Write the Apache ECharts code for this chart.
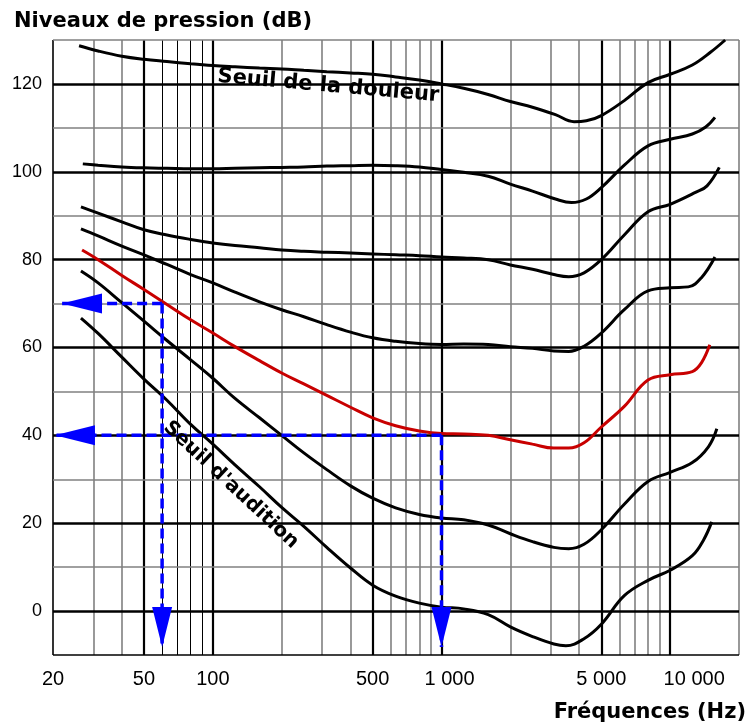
<!DOCTYPE html>
<html>
<head>
<meta charset="utf-8">
<script src="https://cdn.jsdelivr.net/npm/echarts@6/dist/echarts.min.js"></script>
<style>
  html, body { margin: 0; padding: 0; background: #fff; }
  #chart { width: 748px; height: 726px; }
</style>
</head>
<body>
<div id="chart"></div>
<script>
// isophones : [fréquence (Hz), niveau (dB)]
const phon120 = [[26, 128.7], [31.5, 127.5], [40, 126.3], [50, 125.6], [63, 125.1], [80, 124.6], [100, 124.2], [125, 123.9], [160, 123.6], [200, 123.4], [250, 123.1], [315, 122.8], [400, 122.5], [500, 122.2], [630, 121.6], [800, 120.9], [1000, 120], [1250, 119], [1600, 117.6], [2000, 116], [2500, 114.7], [3150, 113], [3800, 111.4], [4300, 111.6], [5000, 112.8], [6300, 116.2], [8000, 120.3], [10000, 122.2], [12500, 124.3], [15000, 127.2], [17400, 130]];
const phon100 = [[27, 101.8], [31.5, 101.5], [40, 101.1], [50, 100.9], [63, 100.8], [80, 100.7], [100, 100.7], [125, 100.8], [160, 100.9], [200, 101], [250, 101.1], [315, 101.3], [400, 101.4], [500, 101.5], [630, 101.4], [800, 101.1], [1000, 100.5], [1250, 99.9], [1600, 99], [2000, 97.2], [2500, 95.6], [3150, 93.8], [3700, 93], [4300, 93.8], [5000, 96.4], [6300, 101.5], [8000, 105.9], [10000, 107.4], [12500, 108.6], [14300, 110.2], [15700, 112.4]];
const phon80 = [[26.5, 92], [31.5, 90.6], [40, 88.6], [50, 86.8], [63, 85.6], [80, 84.6], [100, 83.8], [125, 83.2], [160, 82.7], [200, 82.2], [250, 81.9], [315, 81.7], [400, 81.5], [500, 81.3], [630, 81.1], [800, 80.9], [1000, 80.6], [1250, 80.4], [1600, 80], [2000, 78.8], [2500, 77.8], [3100, 76.6], [3600, 76.1], [4200, 77], [5000, 80], [6300, 85.6], [8000, 90.9], [10000, 92.6], [12900, 95.3], [14500, 96.8], [16400, 101]];
const phon60 = [[26.5, 87], [31.5, 85.4], [40, 83.1], [50, 81.1], [63, 78.9], [80, 76.6], [100, 74.7], [125, 72.6], [160, 70.4], [200, 68.6], [250, 67], [315, 65.2], [400, 63.5], [500, 62.2], [630, 61.4], [800, 60.9], [1000, 60.7], [1250, 60.8], [1600, 60.7], [2000, 60.2], [2500, 59.8], [3100, 59.2], [3600, 59.1], [4200, 60.3], [5000, 63.3], [6300, 68.6], [8000, 72.9], [10000, 73.6], [12000, 73.8], [13700, 75.9], [15700, 80.6]];
const phon40 = [[26.8, 82.2], [31.5, 80], [40, 76.4], [50, 73.2], [63, 69.8], [80, 66.3], [100, 63.3], [125, 60.2], [160, 57], [200, 54.2], [250, 51.7], [315, 49.1], [400, 46.4], [500, 44], [630, 42.2], [800, 41], [1000, 40.4], [1250, 40.3], [1600, 40], [2000, 39], [2500, 38], [3100, 37.1], [3600, 37.1], [4200, 38.3], [5000, 41.9], [6300, 46.6], [8000, 52.6], [10000, 53.8], [12500, 54.5], [13700, 56.5], [14900, 60.6]];
const phon20 = [[26.5, 77.4], [31.5, 74.7], [40, 70.2], [50, 66], [63, 61.6], [80, 57.2], [100, 53], [125, 48.4], [160, 44], [200, 40], [250, 36], [315, 32.2], [400, 28.5], [500, 25.7], [630, 23.5], [800, 22], [1000, 21.2], [1250, 20.8], [1600, 19.6], [2000, 17.6], [2500, 15.8], [3100, 14.5], [3600, 14.2], [4200, 15.2], [5000, 18.5], [6300, 24.3], [8000, 29.5], [10000, 31.6], [12500, 33.8], [14700, 37.4], [16000, 41.5]];
const seuilAudition = [[26.5, 66.7], [31.5, 63.2], [40, 57.8], [50, 52.8], [63, 48], [80, 42.5], [100, 38], [125, 33.3], [160, 28.3], [200, 23.6], [250, 19.3], [315, 14.5], [400, 9.8], [500, 5.9], [630, 3.4], [800, 1.8], [1000, 0.9], [1250, 0.5], [1600, -0.8], [2000, -3.6], [2500, -5.8], [3100, -7.5], [3500, -7.9], [4200, -6.3], [5000, -3], [6300, 3.5], [8000, 7], [10000, 9.3], [12500, 12.6], [14000, 16.2], [15200, 20.3]];

// lectures : 70 dB à 60 Hz, 40 dB à 1000 Hz
const arrow70h = [[60, 70], [21.9, 70]];
const arrow60v = [[60, 70], [60, -8.2]];
const arrow40h = [[1000, 40], [20.4, 40]];
const arrow1000v = [[1000, 40], [1000, -8.2]];

// graduations
const xMajor = [20, 50, 100, 500, 1000, 5000, 10000];
const xMajorLabels = ['20', '50', '100', '500', '1 000', '5 000', '10 000'];
const xMinor = [30, 40, 200, 300, 400, 600, 700, 800, 900, 2000, 3000, 4000, 6000, 7000, 8000, 9000];
const xMinorThin = [60, 70, 80, 90];
const yMajor = [0, 20, 40, 60, 80, 100, 120];
const yMinor = [10, 30, 50, 70, 90, 110, 130];

const annotationNames = ['Seuil de la douleur', "Seuil d'audition"];
const annotationPos = [[320, 119.5], [120, 28.7]];

const chart = echarts.init(document.getElementById('chart'));

const major = { color: '#000', width: 2.2, type: 'solid' };
const minor = { color: '#808080', width: 1.6, type: 'solid' };
const thin = { color: '#000', width: 1, type: 'solid' };
const labelPad = { '1 000': [0, 0, 0, 16], '10 000': [0, 0, 0, 48] };

const gridLines = [];
xMajor.forEach((v, i) => {
  gridLines.push({
    xAxis: v,
    lineStyle: v === 20 ? { color: '#000', width: 1.6, type: 'solid' } : major,
    label: {
      show: true,
      position: 'start',
      distance: 14,
      formatter: xMajorLabels[i],
      padding: labelPad[xMajorLabels[i]] || 0,
      color: '#000',
      fontSize: 20,
      fontFamily: 'Liberation Sans'
    }
  });
});
xMinor.forEach(v => gridLines.push({ xAxis: v, lineStyle: minor, label: { show: false } }));
xMinorThin.forEach(v => gridLines.push({ xAxis: v, lineStyle: thin, label: { show: false } }));
gridLines.push({ xAxis: 20000, lineStyle: minor, label: { show: false } });
yMinor.forEach(v => gridLines.push({ yAxis: v, lineStyle: minor, label: { show: false } }));
yMajor.forEach(v => gridLines.push({ yAxis: v, lineStyle: { color: '#000', width: 2.5, type: 'solid' }, label: { show: false } }));
gridLines.push({ yAxis: -10, lineStyle: { color: '#000', width: 1.5, type: 'solid' }, label: { show: false } });

const curve = (data, color) => ({
  type: 'line',
  data,
  smooth: 0.4,
  symbol: 'none',
  lineStyle: { color, width: 3 },
  z: 5,
  silent: true
});

const arrow = (pts, rot, offset) => ({
  type: 'line',
  data: [
    { value: pts[0], symbol: 'none' },
    { value: pts[1], symbol: 'triangle', symbolSize: [20, 40], symbolRotate: rot, symbolOffset: offset }
  ],
  lineStyle: { color: '#0000ff', width: 3.5, type: [10, 5] },
  itemStyle: { color: '#0000ff' },
  z: 6,
  silent: true
});

chart.setOption({
  animation: false,
  title: [
    {
      text: 'Niveaux de pression (dB)',
      left: 9,
      top: 6,
      textStyle: { fontFamily: 'DejaVu Sans', fontWeight: 'bold', fontSize: 21, color: '#000' }
    },
    {
      text: 'Fréquences (Hz)',
      right: -3,
      top: 697,
      textStyle: { fontFamily: 'DejaVu Sans', fontWeight: 'bold', fontSize: 21, color: '#000' }
    }
  ],
  grid: { left: 53, right: 9, top: 40, bottom: 71 },
  xAxis: {
    type: 'log',
    logBase: 10,
    min: 20,
    max: 20000,
    axisLine: { show: false },
    axisTick: { show: false },
    axisLabel: { show: false },
    splitLine: { show: false }
  },
  yAxis: {
    type: 'value',
    min: -10,
    max: 130,
    interval: 10,
    axisLine: { show: false },
    axisTick: { show: false },
    splitLine: { show: false },
    axisLabel: {
      margin: 11,
      fontSize: 18,
      fontFamily: 'Liberation Sans',
      color: '#000',
      formatter: v => (yMajor.includes(v) ? String(v) : '')
    }
  },
  series: [
    {
      type: 'line',
      data: [],
      z: 1,
      markLine: {
        silent: true,
        symbol: 'none',
        animation: false,
        data: gridLines
      }
    },
    curve(phon120, '#000'),
    curve(phon100, '#000'),
    curve(phon80, '#000'),
    curve(phon60, '#000'),
    curve(phon40, '#c80000'),
    curve(phon20, '#000'),
    curve(seuilAudition, '#000'),
    arrow(arrow70h, 90, [20, 0]),
    arrow(arrow60v, 180, [0, -20]),
    arrow(arrow40h, 90, [20, 0]),
    arrow(arrow1000v, 180, [0, -20]),
    {
      type: 'scatter',
      symbolSize: 0,
      z: 7,
      silent: true,
      itemStyle: { opacity: 1 },
      data: [
        {
          name: annotationNames[0],
          value: annotationPos[0],
          label: { rotate: -5, fontSize: 21 }
        },
        {
          name: annotationNames[1],
          value: annotationPos[1],
          label: { rotate: -43, fontSize: 20 }
        }
      ],
      label: {
        show: true,
        position: 'inside',
        formatter: '{b}',
        color: '#000',
        opacity: 1,
        fontFamily: 'DejaVu Sans',
        fontWeight: 'bold'
      }
    }
  ]
});
</script>
</body>
</html>
